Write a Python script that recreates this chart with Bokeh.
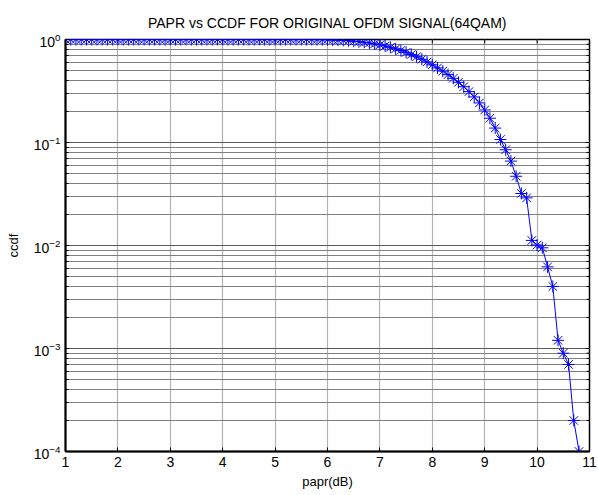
from bokeh.plotting import figure
from bokeh.models import Range1d, FixedTicker
from bokeh.embed import file_html
from bokeh.resources import INLINE

# ---- data ----
papr_db = [1.0, 1.1, 1.2, 1.3, 1.4, 1.5, 1.6, 1.7, 1.8, 1.9,
           2.0, 2.1, 2.2, 2.3, 2.4, 2.5, 2.6, 2.7, 2.8, 2.9,
           3.0, 3.1, 3.2, 3.3, 3.4, 3.5, 3.6, 3.7, 3.8, 3.9,
           4.0, 4.1, 4.2, 4.3, 4.4, 4.5, 4.6, 4.7, 4.8, 4.9,
           5.0, 5.1, 5.2, 5.3, 5.4, 5.5, 5.6, 5.7, 5.8, 5.9,
           6.0, 6.1, 6.2, 6.3, 6.4, 6.5, 6.6, 6.7, 6.8, 6.9,
           7.0, 7.1, 7.2, 7.3, 7.4, 7.5, 7.6, 7.7, 7.8, 7.9,
           8.0, 8.1, 8.2, 8.3, 8.4, 8.5, 8.6, 8.7, 8.8, 8.9,
           9.0, 9.1, 9.2, 9.3, 9.4, 9.5, 9.6, 9.7, 9.8, 9.9,
           10.0, 10.1, 10.2, 10.3, 10.4, 10.5, 10.6, 10.7, 10.8]
ccdf = [1.0, 1.0, 1.0, 1.0, 1.0, 1.0, 1.0, 1.0, 1.0, 1.0,
        1.0, 1.0, 1.0, 1.0, 1.0, 1.0, 1.0, 1.0, 1.0, 1.0,
        1.0, 1.0, 1.0, 1.0, 1.0, 1.0, 1.0, 1.0, 1.0, 1.0,
        1.0, 1.0, 1.0, 1.0, 1.0, 1.0, 1.0, 1.0, 1.0, 1.0,
        1.0, 1.0, 1.0, 1.0, 1.0, 1.0, 1.0, 0.999, 0.998, 0.997,
        0.995, 0.99, 0.985, 0.98, 0.972, 0.963, 0.952, 0.94, 0.925, 0.907,
        0.887, 0.865, 0.84, 0.812, 0.782, 0.75, 0.716, 0.68, 0.643, 0.606,
        0.568, 0.53, 0.493, 0.456, 0.42, 0.384, 0.348, 0.312, 0.277, 0.242,
        0.207, 0.172, 0.138, 0.107, 0.085, 0.066, 0.047, 0.032, 0.029, 0.0112,
        0.0101, 0.0095, 0.0062, 0.0040, 0.0012, 0.0009, 0.0007, 0.0002, 0.0001]
x_ticks = [1, 2, 3, 4, 5, 6, 7, 8, 9, 10, 11]
y_decades = [1e-4, 1e-3, 1e-2, 1e-1, 1.0]
y_minor = [m * d for d in [1e-4, 1e-3, 1e-2, 1e-1] for m in [2, 3, 4, 5, 6, 7, 8, 9]]

FONT = "Liberation Sans"
X0, X1 = 1, 11
Y0, Y1 = 1e-4, 1.0

p = figure(width=597, height=494, output_backend="svg", toolbar_location=None,
           y_axis_type="log", x_range=Range1d(X0, X1), y_range=Range1d(Y0, Y1),
           min_border_left=65, min_border_right=8, min_border_top=39, min_border_bottom=43)
p.background_fill_color = "white"
p.border_fill_color = "white"
p.outline_line_color = "black"
p.outline_line_width = 1.5

p.title.text = "PAPR vs CCDF FOR ORIGINAL OFDM SIGNAL(64QAM)"
p.title.align = "center"
p.title.text_font = FONT
p.title.text_font_size = "14px"
p.title.text_font_style = "normal"
p.title.text_color = "black"
p.title.standoff = 18

xa = p.xaxis[0]
xa.ticker = FixedTicker(ticks=x_ticks)
xa.axis_label = "papr(dB)"
ya = p.yaxis[0]
ya.axis_label = "ccdf"

for ax in (xa, ya):
    ax.axis_label_text_font = FONT
    ax.axis_label_text_font_size = "13px"
    ax.axis_label_text_font_style = "normal"
    ax.axis_label_text_color = "black"
    ax.major_label_text_font = FONT
    ax.major_label_text_font_size = "14px"
    ax.major_label_text_color = "black"
    ax.axis_line_color = "black"
    ax.axis_line_width = 2
    ax.major_tick_in = 4
    ax.major_tick_out = 0
    ax.major_tick_line_color = "black"
    ax.minor_tick_in = 3
    ax.minor_tick_out = 0
    ax.minor_tick_line_color = "black"
xa.minor_tick_line_color = None
xa.major_label_standoff = 5
xa.axis_label_standoff = 4
ya.major_label_standoff = 5
ya.axis_label_standoff = 10

# grids
p.xgrid.grid_line_color = "#b4b4b4"
p.xgrid.grid_line_width = 1.2
p.ygrid.grid_line_color = "#5a5a5a"
p.ygrid.grid_line_width = 1
p.ygrid.minor_grid_line_color = "#808080"
p.ygrid.minor_grid_line_width = 1

# MATLAB-style box ticks on the top and right edges (drawn from the tick lists)
tick_y_in = 10 ** (-4 * 4 / 412)      # ~4 px inward from the top edge (log scale)
p.segment(x0=x_ticks[1:-1], y0=[Y1] * (len(x_ticks) - 2),
          x1=x_ticks[1:-1], y1=[Y1 * tick_y_in] * (len(x_ticks) - 2),
          line_color="black", line_width=1)
dx_major = (X1 - X0) * 4 / 524
dx_minor = (X1 - X0) * 3 / 524
p.segment(x0=[X1] * len(y_decades), y0=y_decades, x1=[X1 - dx_major] * len(y_decades), y1=y_decades,
          line_color="black", line_width=1)
p.segment(x0=[X1] * len(y_minor), y0=y_minor, x1=[X1 - dx_minor] * len(y_minor), y1=y_minor,
          line_color="black", line_width=1)

p.line(papr_db, ccdf, line_color="#0000ff", line_width=1)
p.scatter(papr_db, ccdf, marker="asterisk", size=12, line_color="#0000ff", line_width=1)

open("out.html", "w").write(file_html(p, INLINE))
